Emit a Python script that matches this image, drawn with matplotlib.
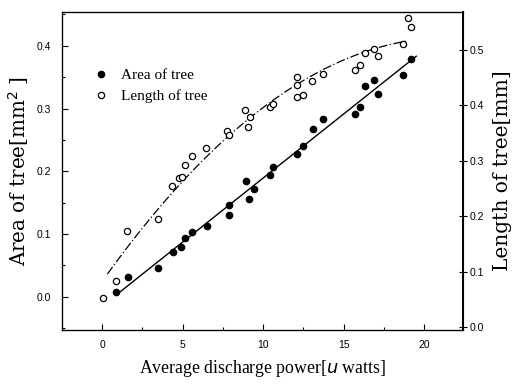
import numpy as np
import matplotlib
matplotlib.use('Agg')
import matplotlib.pyplot as plt
from matplotlib.ticker import MultipleLocator

# area of tree (left axis)
area_x = [0.85, 1.6, 3.5, 4.4, 4.9, 5.15, 5.57, 6.5, 7.85, 7.9, 8.96, 9.1, 9.4,
          10.4, 10.6, 12.1, 12.5, 13.06, 13.7, 15.7, 16.0, 16.3, 16.9, 17.1,
          18.65, 19.15]
area_y = [0.008, 0.032, 0.045, 0.071, 0.079, 0.093, 0.103, 0.112, 0.146, 0.131,
          0.184, 0.156, 0.171, 0.194, 0.207, 0.227, 0.240, 0.267, 0.283, 0.291,
          0.303, 0.336, 0.346, 0.323, 0.354, 0.379]

# length of tree (right axis)
length_x = [0.06, 0.85, 1.57, 3.48, 4.37, 4.8, 4.95, 5.13, 5.57, 6.44, 7.78, 7.89,
            8.88, 9.17, 9.08, 10.4, 10.6, 12.07, 12.1, 12.1, 12.5, 13.0, 13.7,
            15.7, 16.0, 16.3, 16.9, 17.1, 18.65, 19.0, 19.15]
length_y = [0.053, 0.083, 0.173, 0.195, 0.254, 0.268, 0.271, 0.292, 0.308, 0.322,
            0.354, 0.346, 0.391, 0.379, 0.361, 0.397, 0.403, 0.451, 0.436, 0.414,
            0.418, 0.443, 0.457, 0.464, 0.473, 0.494, 0.502, 0.488, 0.510, 0.557,
            0.541]

fig = plt.figure(figsize=(5.15, 3.85), dpi=100)
ax = fig.add_axes([0.120, 0.143, 0.779, 0.826])
ax2 = ax.twinx()

# fitted trends
a_fit = np.polyfit(area_x, area_y, 1)
xa = np.linspace(0.85, 19.5, 50)
ax.plot(xa, np.polyval(a_fit, xa), color='black', lw=1.0)

l_fit = np.polyfit(length_x, length_y, 2)
xl = np.linspace(0.33, 18.85, 80)
ax2.plot(xl, np.polyval(l_fit, xl), color='black', lw=0.9, ls=(0, (7, 2, 1, 2)))

p1, = ax.plot(area_x, area_y, 'o', color='black', ms=4.5, ls='none')
p2, = ax2.plot(length_x, length_y, 'o', mfc='white', mec='black', mew=0.9,
               ms=4.5, ls='none')

ax.set_xlim(-2.5, 22.4)
ax.set_ylim(-0.053, 0.454)
ax2.set_ylim(-0.005, 0.568)

ax.xaxis.set_major_locator(MultipleLocator(5))
ax.xaxis.set_minor_locator(MultipleLocator(2.5))
ax.yaxis.set_major_locator(MultipleLocator(0.1))
ax.yaxis.set_minor_locator(MultipleLocator(0.05))
ax2.yaxis.set_major_locator(MultipleLocator(0.1))

tick_font = dict(family='Liberation Sans', size=7.5)
ax.tick_params(axis='both', which='both', direction='in', length=4, width=0.8)
ax.tick_params(axis='both', which='minor', length=2.5)
ax2.tick_params(axis='y', direction='inout', length=6, width=0.8)
for lab in ax.get_xticklabels() + ax.get_yticklabels() + ax2.get_yticklabels():
    lab.set_fontproperties(tick_font)
ax.yaxis.set_major_formatter(plt.FuncFormatter(lambda v, p: '%.1f' % v))
ax2.yaxis.set_major_formatter(plt.FuncFormatter(lambda v, p: '%.1f' % v))
ax.tick_params(axis='y', pad=8)
ax.tick_params(axis='x', pad=7)
ax2.tick_params(axis='y', pad=2)

for s in ax2.spines.values():
    s.set_linewidth(0.9)
ax2.spines['right'].set_linewidth(1.4)

ax.set_xlabel('Average discharge power[$\\mathit{u}$ watts]',
              family='Liberation Serif', size=12.8, labelpad=6)
ax.set_ylabel('Area of tree[mm$^2$ ]', family='DejaVu Serif', size=14.3,
              labelpad=4)
ax2.set_ylabel('Length of tree[mm]', family='DejaVu Serif', size=14.5,
               labelpad=6)

ax.legend([p1, p2], ['Area of tree', 'Length of tree'], loc='upper left',
          bbox_to_anchor=(0.045, 0.865), frameon=False,
          prop=dict(family='Liberation Serif', size=11),
          handletextpad=0.8, labelspacing=0.45, handlelength=1.0)

fig.savefig('out.png', dpi=100)
